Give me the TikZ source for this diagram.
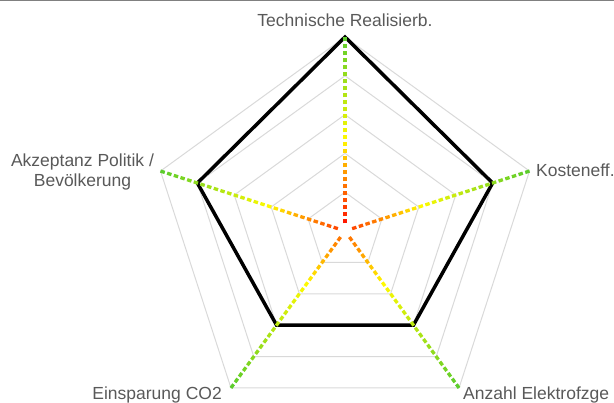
\documentclass[tikz,border=0pt]{standalone}
\usepackage{fontspec}
\setmainfont{Liberation Sans}

\definecolor{gridgray}{RGB}{217,217,217}
\definecolor{labelgray}{RGB}{89,89,89}
\definecolor{framegray}{RGB}{128,128,128}
\definecolor{dc}{RGB}{255,0,0}

% Linear mix of two RGB colours into the colour "dc"; #1 is the fraction
\newcommand\mixrgb[7]{%
  \pgfmathtruncatemacro\mixR{#2+(#5-#2)*#1}%
  \pgfmathtruncatemacro\mixG{#3+(#6-#3)*#1}%
  \pgfmathtruncatemacro\mixB{#4+(#7-#4)*#1}%
  \definecolor{dc}{RGB}{\mixR,\mixG,\mixB}}

% Red -> orange -> yellow -> yellow-green -> green along an axis, t in [0,1]
\newcommand\setaxiscolor[1]{%
  \pgfmathsetmacro\axT{min(1,max(0,#1))}%
  \ifdim\axT pt<0.28pt
    \pgfmathsetmacro\axU{\axT/0.28}\mixrgb{\axU}{255}{0}{0}{255}{140}{0}%
  \else\ifdim\axT pt<0.47pt
    \pgfmathsetmacro\axU{(\axT-0.28)/0.19}\mixrgb{\axU}{255}{140}{0}{255}{250}{0}%
  \else\ifdim\axT pt<0.7pt
    \pgfmathsetmacro\axU{(\axT-0.47)/0.23}\mixrgb{\axU}{255}{250}{0}{180}{230}{20}%
  \else
    \pgfmathsetmacro\axU{(\axT-0.7)/0.3}\mixrgb{\axU}{180}{230}{20}{90}{204}{45}%
  \fi\fi\fi}

\begin{document}
\begin{tikzpicture}[x=1pt,y=1pt,
  gridline/.style={draw=gridgray,line width=1pt},
  datapoly/.style={draw=black,line width=3.5pt,line join=miter},
  axisdash/.style={line width=3.3pt,line cap=butt},
  axislabel/.style={font=\fontsize{17.5}{20}\selectfont,text=labelgray,inner sep=0pt},
  frameline/.style={draw=framegray,line width=1.5pt}]
\useasboundingbox (0,0) rectangle (614,403);

% thin rule along the top edge
\coordinate (tl) at (0,402.3);
\coordinate (tr) at (614,402.3);
\draw[frameline] (tl) -- (tr);

\begin{scope}[shift={(345,172)}]
  \def\R{194}
  % five concentric pentagon rings
  \foreach \k in {1,...,5} {
    \pgfmathsetmacro\rr{\k*\R/5}
    \draw[gridline] (90:\rr) -- (18:\rr) -- (-54:\rr) -- (-126:\rr) -- (162:\rr) -- cycle;
  }

  % data polygon (values 5,4,3,3,4 out of 5)
  \coordinate (d1) at (90:194);
  \coordinate (d2) at (18:155.2);
  \coordinate (d3) at (-54:116.4);
  \coordinate (d4) at (-126:116.4);
  \coordinate (d5) at (162:155.2);
  \draw[datapoly] (d1) -- (d2) -- (d3) -- (d4) -- (d5) -- cycle;

  % dashed axes with a colour gradient from the centre outwards
  \foreach \a/\off in {90/0, 18/0.1, -54/0.2, -126/0.2, 162/0.1} {
    \foreach \k in {0,...,26} {
      \pgfmathsetmacro\rB{\R-7*\k}
      \pgfmathsetmacro\rA{\rB-4.5}
      \setaxiscolor{\off+(1-\off)*(\rB-2)/\R}
      \draw[axisdash,draw=dc] (\a:\rA) -- (\a:\rB);
    }
  }
\end{scope}

% axis labels
\node[axislabel,anchor=base] (l1) at (345,376) {Technische Realisierb.};
\node[axislabel,anchor=base west] (l2) at (536,226) {Kosteneff.};
\node[axislabel,anchor=base west] (l3) at (463,3) {Anzahl Elektrofzge};
\node[axislabel,anchor=base east] (l4) at (222,3) {Einsparung CO2};
\node[axislabel,anchor=base] (l5a) at (82.5,236) {Akzeptanz Politik /};
\node[axislabel,anchor=base] (l5b) at (82.5,216) {Bevölkerung};
\end{tikzpicture}
\end{document}
